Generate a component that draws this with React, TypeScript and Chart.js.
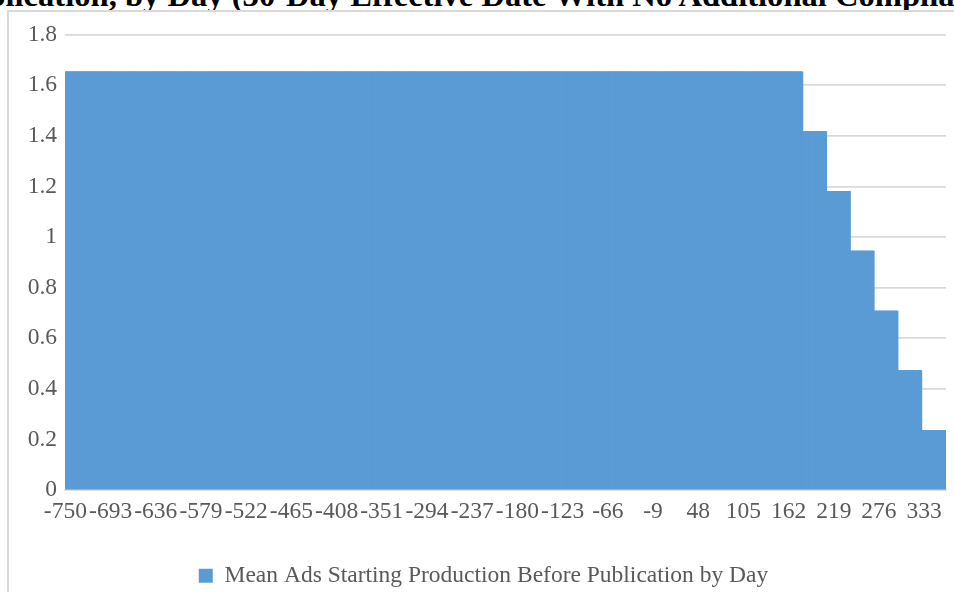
import React, { useEffect, useRef } from 'react';
import { Chart, registerables } from 'chart.js';

Chart.register(...registerables);

// ---- data ----
const FIRST_DAY = -750;
const LAST_DAY = 360;
const segmentStartDays = [-750, 180, 210, 240, 270, 300, 330];
const segmentValues = [1.655, 1.418, 1.182, 0.946, 0.709, 0.473, 0.236];
const TICK_EVERY = 57;
const Y_MIN = 0;
const Y_MAX = 1.8;
const Y_STEP = 0.2;
const seriesName = 'Mean Ads Starting Production Before Publication by Day';
const titleHidden = 'Mean Ads Starting Production Before Pub';
const titleVisible = 'lication, by Day (30-Day Effective Date With No Additional Compliance Period)';

const days: string[] = [];
const values: number[] = [];
for (let d = FIRST_DAY; d <= LAST_DAY; d++) {
  days.push(String(d));
  let seg = 0;
  for (let s = 0; s < segmentStartDays.length; s++) if (d >= segmentStartDays[s]) seg = s;
  values.push(segmentValues[seg]);
}

const FONT = "'Liberation Serif', 'Times New Roman', serif";
const FONT_SIZE = 23.5;
const LEGEND_DX = 6.5;
const LEGEND_DY = 5.5;

const legendShift = {
  id: 'legendShift',
  afterLayout(chart: any) {
    const lg = chart.legend;
    if (!lg) return;
    lg.left += LEGEND_DX;
    lg.right += LEGEND_DX;
    lg.top += LEGEND_DY;
    lg.bottom += LEGEND_DY;
  },
};

export default function App() {
  const ref = useRef<HTMLCanvasElement | null>(null);

  useEffect(() => {
    if (!ref.current) return;
    const chart = new Chart(ref.current, {
      type: 'bar',
      data: {
        labels: days,
        datasets: [
          {
            label: seriesName,
            data: values,
            backgroundColor: '#5b9bd5',
            borderWidth: 0,
            barPercentage: 3,
            categoryPercentage: 1,
          },
        ],
      },
      options: {
        animation: false,
        responsive: true,
        maintainAspectRatio: false,
        layout: { padding: { left: 8, right: 8, top: 34.7, bottom: 0 } },
        plugins: {
          title: { display: false },
          tooltip: { enabled: false },
          legend: {
            display: true,
            position: 'bottom',
            labels: {
              boxWidth: 14,
              boxHeight: 14,
              color: '#595959',
              font: { family: FONT, size: FONT_SIZE },
              padding: 10,
            },
          },
        },
        scales: {
          x: {
            grid: { display: false },
            border: { display: true, color: '#d9d9d9', width: 1.5 },
            ticks: {
              autoSkip: false,
              maxRotation: 0,
              minRotation: 0,
              padding: 0,
              color: '#595959',
              font: { family: FONT, size: FONT_SIZE },
              callback: (_v: any, i: number) => (i % TICK_EVERY === 0 ? days[i] : ''),
            },
            afterFit: (scale: any) => {
              scale.height = 58.5;
            },
          },
          y: {
            min: Y_MIN,
            max: Y_MAX,
            grid: { color: '#d9d9d9', lineWidth: 1.7, drawTicks: false },
            border: { display: false },
            ticks: {
              stepSize: Y_STEP,
              padding: 8,
              color: '#595959',
              font: { family: FONT, size: FONT_SIZE },
              callback: (v: any) => String(Math.round(Number(v) * 10) / 10),
            },
            afterFit: (scale: any) => {
              scale.width = 57;
            },
          },
        },
      },
      plugins: [legendShift],
    });
    return () => chart.destroy();
  }, []);

  return (
    <div
      style={{
        position: 'absolute',
        left: 0,
        top: 0,
        width: 954,
        height: 592,
        overflow: 'hidden',
        background: '#ffffff',
      }}
    >
      <div
        style={{
          position: 'absolute',
          left: 5.5,
          top: -20.8,
          whiteSpace: 'nowrap',
          fontFamily: FONT,
          fontWeight: 'bold',
          fontSize: '32.6px',
          lineHeight: '32.6px',
          color: '#000000',
        }}
      >
        <span style={{ position: 'absolute', right: '100%', top: 0 }}>{titleHidden}</span>
        {titleVisible}
      </div>
      <div
        style={{
          position: 'absolute',
          left: 7,
          top: 10,
          width: 2000,
          height: 2000,
          border: '2px solid #d9d9d9',
          background: '#ffffff',
        }}
      />
      <div style={{ position: 'absolute', left: 0, top: 0, width: 954, height: 592 }}>
        <canvas ref={ref} />
      </div>
    </div>
  );
}
